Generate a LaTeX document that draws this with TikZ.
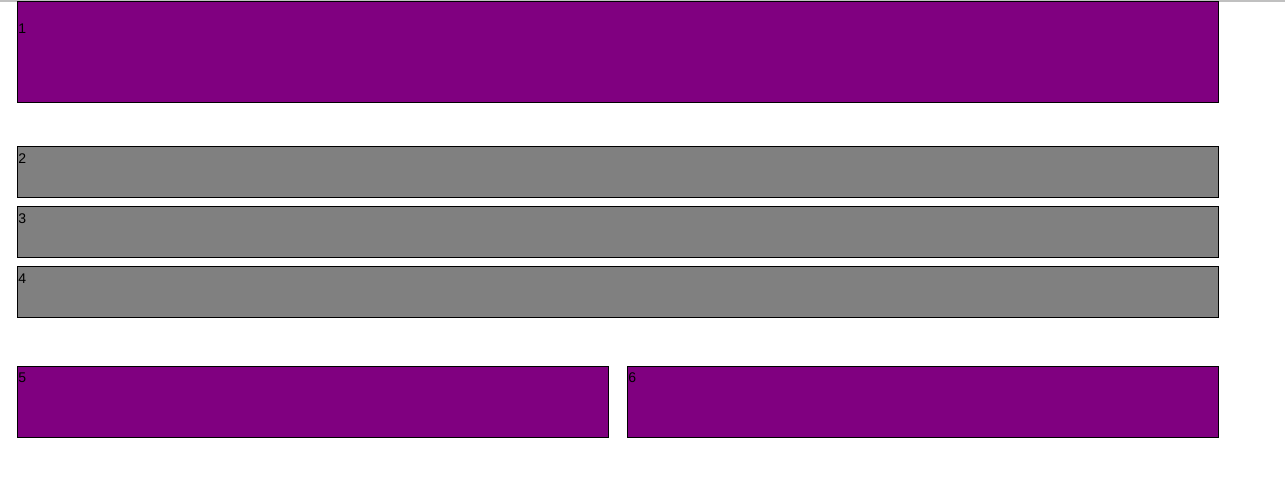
\documentclass[tikz,border=0pt]{standalone}
\usepackage{fontspec}
\setmainfont{Liberation Sans}
\usetikzlibrary{positioning}
\definecolor{slabpurple}{RGB}{128,0,128}
\definecolor{slabgray}{RGB}{128,128,128}
\definecolor{edgegray}{RGB}{192,192,192}
\tikzset{
  slab/.style={draw=black,line width=.75pt,anchor=north west,inner sep=0pt},
  slabnum/.style={anchor=base west,inner sep=0pt,font=\fontsize{10.5}{12}\selectfont}
}
% name, x, y, width, height, fill, label, label drop
\newcommand{\slab}[8]{%
  \node[slab,fill=#6,minimum width=#4*.75pt,minimum height=#5*.75pt] (#1) at (#2,#3) {};
  \node[slabnum] (#1num) at ([shift={(1,#8)}]#1.north west) {#7};
}

\begin{document}
\begin{tikzpicture}[x=.75pt,y=-.75pt]
    \useasboundingbox (0,0) rectangle (1285,482);
    \fill[edgegray] (0,0) rectangle (1285,1.5);
    \slab{top}{17}{1}{1201}{101}{slabpurple}{1}{32}
    \slab{rowa}{17}{146}{1201}{51}{slabgray}{2}{17}
    \slab{rowb}{17}{206}{1201}{51}{slabgray}{3}{17}
    \slab{rowc}{17}{266}{1201}{51}{slabgray}{4}{17}
    \slab{left}{17}{366}{591}{71}{slabpurple}{5}{16}
    \slab{right}{627}{366}{591}{71}{slabpurple}{6}{16}
  \end{tikzpicture}
\end{document}
